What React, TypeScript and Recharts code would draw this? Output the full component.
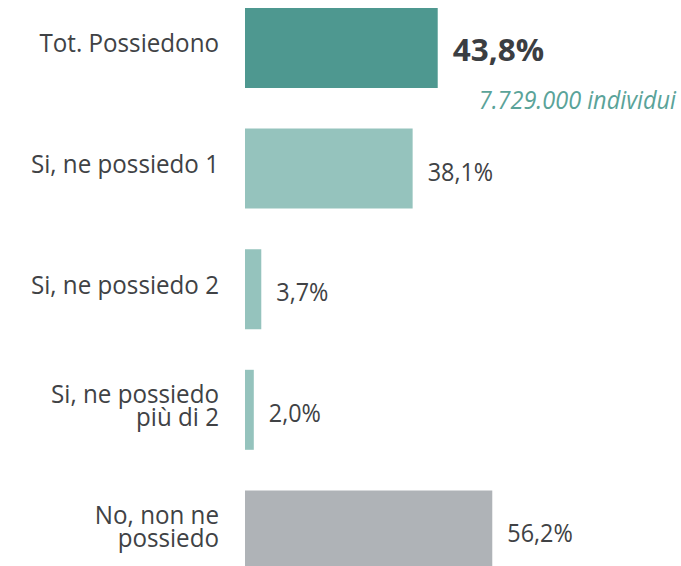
import React from "react"
import { BarChart, Bar, XAxis, YAxis, Cell, LabelList } from "recharts"

// survey answers, top to bottom
const categories = [
  "Tot. Possiedono",
  "Si, ne possiedo 1",
  "Si, ne possiedo 2",
  "Si, ne possiedo\npiù di 2",
  "No, non ne\npossiedo",
]
const percentages = [43.8, 38.1, 3.7, 2.0, 56.2]
const totalNote = "7.729.000 individui"

const BAR_COLORS = ["#4e9890", "#95c3bd", "#95c3bd", "#95c3bd", "#afb3b7"]
const FONT = "'Open Sans', 'Noto Sans', sans-serif"
const TEXT = "#404245"

const chartData = categories.map((name, i) => ({ name, value: percentages[i] }))

const fmt = (v: number) => v.toFixed(1).replace(".", ",") + "%"

function CategoryTick({ x, y, payload }: any) {
  const lines = String(payload.value).split("\n")
  const first = lines.length > 1 ? y - 7 : y + 4
  return (
    <text
      transform={`translate(${x},${first}) scale(0.93,1)`}
      textAnchor="end"
      fontFamily={FONT}
      fontSize={26}
      fill={TEXT}
    >
      {lines.map((line, i) => (
        <tspan key={i} x={0} dy={i === 0 ? 0 : 23}>
          {line}
        </tspan>
      ))}
    </text>
  )
}

function ValueLabel({ x, y, width, height, value, index }: any) {
  const lx = x + width + 15
  const mid = y + height / 2
  if (index === 0) {
    return (
      <g>
        <text
          transform={`translate(${lx},${mid + 13}) scale(1.05,1)`}
          fontFamily={FONT}
          fontSize={30}
          fontWeight={700}
          fill="#3b3e42"
        >
          {fmt(value)}
        </text>
        <text
          transform={`translate(${x + width + 41},${mid + 61}) scale(0.94,1)`}
          fontFamily={FONT}
          fontSize={25}
          fontStyle="italic"
          fill="#5aa399"
        >
          {totalNote}
        </text>
      </g>
    )
  }
  return (
    <text
      transform={`translate(${lx},${mid + 12}) scale(0.9,1)`}
      fontFamily={FONT}
      fontSize={26}
      fill={TEXT}
    >
      {fmt(value)}
    </text>
  )
}

export default function App() {
  return (
    <div style={{ position: "fixed", left: 0, top: 0, width: 681, height: 566, overflow: "hidden", background: "#fff" }}>
      <div style={{ position: "absolute", left: 8, top: -12 }}>
        <BarChart
          width={673}
          height={603}
          data={chartData}
          layout="vertical"
          margin={{ top: 0, right: 40, bottom: 0, left: 0 }}
          barSize={80}
        >
          <XAxis type="number" domain={[0, 90]} hide />
          <YAxis
            type="category"
            dataKey="name"
            width={237}
            axisLine={false}
            tickLine={false}
            tickSize={0}
            tickMargin={26}
            tick={<CategoryTick />}
            interval={0}
          />
          <Bar dataKey="value" isAnimationActive={false}>
            {chartData.map((d, i) => (
              <Cell key={d.name} fill={BAR_COLORS[i]} />
            ))}
            <LabelList dataKey="value" content={<ValueLabel />} />
          </Bar>
        </BarChart>
      </div>
    </div>
  )
}
